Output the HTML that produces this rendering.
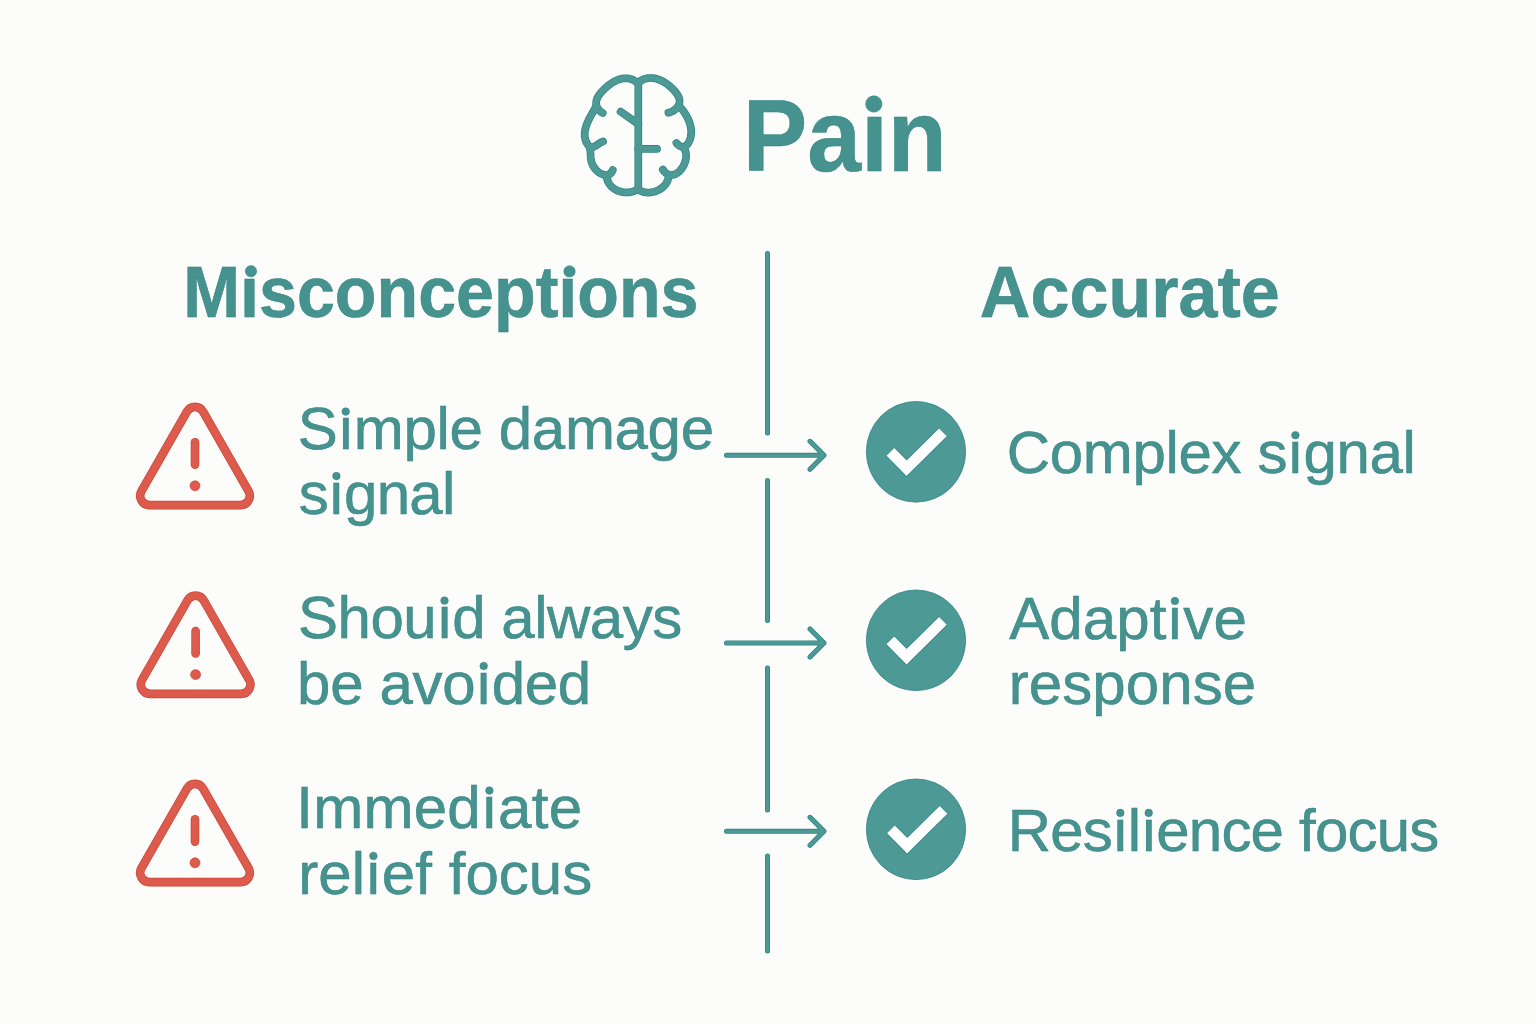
<!DOCTYPE html>
<html><head><meta charset="utf-8"><style>
html,body{margin:0;padding:0;background:#FCFCFB;}
body{width:1536px;height:1024px;overflow:hidden;position:relative;}
svg{position:absolute;left:0;top:0;}
text{font-family:"Liberation Sans",sans-serif;fill:#46928F;stroke:#2A817E;stroke-width:0.5px;}
.b{font-weight:bold;}
</style></head><body>
<svg width="1536" height="1024" viewBox="0 0 1536 1024">
<g fill="none" stroke="#2A817E" stroke-width="7.7" stroke-linecap="round" stroke-linejoin="round"><path d="M638.44 83.94 L637.74 83.24 L637.02 82.59 L636.30 81.98 L635.56 81.43 L634.82 80.92 L634.07 80.46 L633.32 80.05 L632.56 79.68 L631.79 79.36 L631.01 79.08 L630.24 78.84 L629.45 78.65 L628.67 78.49 L627.87 78.38 L627.08 78.30 L626.28 78.26 L625.48 78.26 L624.68 78.29 L623.88 78.36 L623.08 78.46 L622.28 78.59 L621.48 78.76 L620.68 78.96 L619.88 79.18 L619.08 79.44 L618.28 79.72 L617.49 80.03 L616.70 80.37 L615.92 80.73 L615.13 81.11 L614.36 81.52 L613.59 81.95 L612.82 82.40 L612.06 82.87 L611.31 83.36 L610.56 83.87 L609.83 84.40 L609.10 84.94 L608.38 85.49 L607.67 86.07 L606.96 86.65 L606.27 87.25 L605.59 87.86 L604.92 88.48 L604.26 89.10 L603.62 89.74 L602.99 90.39 L602.37 91.04 L601.76 91.69 L601.17 92.36 L600.60 93.02 L600.05 93.70 L599.52 94.38 L599.03 95.06 L598.56 95.76 L598.13 96.46 L597.73 97.16 L597.37 97.88 L597.05 98.60 L596.77 99.33 L596.55 100.06 L596.37 100.81 L596.25 101.56 L596.18 102.32 L596.17 103.09 L596.22 103.87 L596.33 104.65 L596.51 105.44 L596.75 106.23 L597.06 107.01 L597.43 107.78 L597.86 108.54 L598.36 109.27 L598.92 109.99 L599.55 110.67 L600.24 111.33 L601.00 111.94 L601.82 112.52 L602.71 113.05"/>
<path d="M596.12 106.21 L595.81 106.82 L595.50 107.43 L595.17 108.04 L594.83 108.67 L594.49 109.29 L594.14 109.93 L593.78 110.57 L593.42 111.21 L593.05 111.86 L592.68 112.51 L592.31 113.17 L591.93 113.83 L591.56 114.50 L591.19 115.17 L590.81 115.85 L590.44 116.53 L590.08 117.21 L589.71 117.90 L589.35 118.59 L589.00 119.29 L588.66 119.99 L588.32 120.69 L587.99 121.39 L587.67 122.10 L587.37 122.81 L587.07 123.53 L586.79 124.24 L586.52 124.96 L586.26 125.68 L586.02 126.41 L585.80 127.13 L585.59 127.86 L585.40 128.59 L585.23 129.32 L585.08 130.05 L584.95 130.79 L584.84 131.52 L584.76 132.26 L584.70 132.99 L584.66 133.73 L584.65 134.47 L584.67 135.21 L584.71 135.95 L584.78 136.69 L584.88 137.43 L585.02 138.17 L585.18 138.91 L585.37 139.65 L585.60 140.39 L585.86 141.13 L586.15 141.85 L586.48 142.56 L586.84 143.23 L587.22 143.88 L587.64 144.48 L588.08 145.04 L588.56 145.55 L589.06 145.99 L589.60 146.36 L590.15 146.66 L590.74 146.88 L591.35 147.01 L591.99 147.04 L592.65 146.98 L593.33 146.81 L594.03 146.57 L594.75 146.25 L595.48 145.88 L596.21 145.46 L596.95 145.00 L597.68 144.53 L598.42 144.04 L599.14 143.56 L599.85 143.10 L600.55 142.66 L601.23 142.27 L601.89 141.92 L602.52 141.65 L603.11 141.45"/>
<path d="M589.87 148.48 L590.00 148.98 L590.11 149.49 L590.20 150.00 L590.28 150.51 L590.35 151.03 L590.40 151.56 L590.45 152.09 L590.48 152.62 L590.51 153.16 L590.54 153.70 L590.56 154.24 L590.58 154.78 L590.60 155.32 L590.62 155.87 L590.64 156.41 L590.68 156.96 L590.71 157.50 L590.76 158.05 L590.82 158.59 L590.89 159.14 L590.97 159.68 L591.07 160.22 L591.18 160.75 L591.31 161.28 L591.45 161.81 L591.61 162.34 L591.78 162.86 L591.97 163.38 L592.18 163.89 L592.39 164.39 L592.62 164.89 L592.87 165.39 L593.13 165.87 L593.40 166.35 L593.69 166.82 L593.99 167.29 L594.30 167.74 L594.63 168.19 L594.97 168.63 L595.32 169.06 L595.68 169.48 L596.06 169.89 L596.44 170.28 L596.84 170.67 L597.26 171.04 L597.68 171.41 L598.12 171.76 L598.56 172.10 L599.02 172.42 L599.49 172.73 L599.97 173.03 L600.46 173.31 L600.95 173.57 L601.46 173.82 L601.97 174.05 L602.48 174.26 L603.00 174.44 L603.52 174.60 L604.05 174.74 L604.57 174.85 L605.09 174.94 L605.61 174.99 L606.12 175.01 L606.63 175.00 L607.13 174.96 L607.62 174.89 L608.11 174.77 L608.58 174.63 L609.05 174.44 L609.50 174.21 L609.93 173.94 L610.35 173.62 L610.76 173.27 L611.14 172.86 L611.51 172.41 L611.86 171.91 L612.18 171.36 L612.48 170.76 L612.76 170.11"/>
<path d="M606.52 176.42 L606.59 176.97 L606.68 177.51 L606.78 178.04 L606.91 178.56 L607.04 179.08 L607.19 179.58 L607.36 180.08 L607.54 180.57 L607.73 181.05 L607.94 181.52 L608.16 181.98 L608.40 182.44 L608.65 182.88 L608.91 183.32 L609.18 183.74 L609.46 184.16 L609.76 184.57 L610.07 184.97 L610.39 185.36 L610.72 185.73 L611.06 186.10 L611.41 186.46 L611.77 186.81 L612.14 187.15 L612.52 187.48 L612.91 187.81 L613.30 188.12 L613.71 188.42 L614.12 188.71 L614.54 188.99 L614.97 189.26 L615.41 189.52 L615.85 189.77 L616.30 190.00 L616.75 190.23 L617.21 190.45 L617.68 190.66 L618.15 190.85 L618.63 191.04 L619.11 191.21 L619.59 191.38 L620.08 191.53 L620.57 191.67 L621.07 191.80 L621.57 191.92 L622.07 192.03 L622.58 192.12 L623.09 192.21 L623.59 192.28 L624.11 192.35 L624.62 192.40 L625.13 192.43 L625.64 192.46 L626.16 192.48 L626.67 192.48 L627.18 192.47 L627.70 192.45 L628.21 192.42 L628.72 192.38 L629.23 192.32 L629.74 192.25 L630.24 192.17 L630.75 192.07 L631.25 191.97 L631.74 191.85 L632.24 191.72 L632.73 191.57 L633.21 191.42 L633.70 191.25 L634.17 191.07 L634.65 190.87 L635.11 190.66 L635.58 190.44 L636.03 190.21 L636.48 189.96 L636.93 189.70 L637.36 189.42 L637.79 189.14 L638.22 188.83"/>
<path d="M638.30 83.00 L638.30 190.00"/>
<path d="M620.60 111.60 L638.30 124.00"/>
<path d="M638.17 82.54 L638.96 81.93 L639.75 81.36 L640.56 80.85 L641.37 80.38 L642.18 79.95 L643.00 79.57 L643.83 79.23 L644.66 78.94 L645.49 78.68 L646.33 78.47 L647.16 78.30 L648.01 78.16 L648.85 78.07 L649.69 78.01 L650.54 77.99 L651.39 78.00 L652.23 78.05 L653.08 78.14 L653.92 78.25 L654.76 78.40 L655.60 78.58 L656.44 78.80 L657.28 79.04 L658.11 79.31 L658.93 79.61 L659.76 79.93 L660.57 80.28 L661.39 80.66 L662.19 81.06 L662.99 81.49 L663.78 81.94 L664.57 82.41 L665.34 82.90 L666.11 83.42 L666.87 83.95 L667.62 84.50 L668.36 85.07 L669.09 85.66 L669.81 86.26 L670.51 86.88 L671.21 87.51 L671.89 88.15 L672.56 88.81 L673.22 89.48 L673.86 90.17 L674.49 90.86 L675.10 91.56 L675.68 92.27 L676.24 92.99 L676.77 93.72 L677.27 94.46 L677.73 95.20 L678.15 95.95 L678.52 96.71 L678.84 97.48 L679.10 98.25 L679.31 99.03 L679.45 99.82 L679.53 100.60 L679.54 101.40 L679.47 102.20 L679.33 103.00 L679.12 103.79 L678.83 104.58 L678.48 105.36 L678.05 106.12 L677.57 106.86 L677.01 107.57 L676.40 108.25 L675.74 108.90 L675.03 109.52 L674.29 110.09 L673.50 110.63 L672.69 111.11 L671.85 111.55 L670.99 111.93 L670.13 112.26 L669.25 112.53 L668.38 112.73"/>
<path d="M679.68 106.73 L680.12 107.19 L680.55 107.67 L680.99 108.15 L681.42 108.65 L681.84 109.16 L682.26 109.68 L682.68 110.20 L683.09 110.74 L683.50 111.29 L683.90 111.84 L684.30 112.41 L684.69 112.98 L685.07 113.56 L685.45 114.15 L685.81 114.75 L686.17 115.35 L686.52 115.96 L686.86 116.58 L687.19 117.20 L687.51 117.83 L687.83 118.46 L688.13 119.11 L688.41 119.75 L688.69 120.40 L688.96 121.06 L689.21 121.72 L689.45 122.38 L689.67 123.05 L689.89 123.72 L690.08 124.40 L690.27 125.07 L690.44 125.75 L690.59 126.44 L690.72 127.12 L690.84 127.81 L690.95 128.49 L691.03 129.18 L691.10 129.87 L691.15 130.56 L691.18 131.25 L691.20 131.94 L691.19 132.63 L691.16 133.32 L691.11 134.01 L691.05 134.70 L690.96 135.39 L690.85 136.07 L690.72 136.76 L690.56 137.44 L690.38 138.11 L690.18 138.79 L689.96 139.46 L689.71 140.13 L689.43 140.79 L689.14 141.44 L688.82 142.07 L688.48 142.68 L688.11 143.27 L687.73 143.83 L687.32 144.35 L686.89 144.84 L686.44 145.29 L685.97 145.69 L685.48 146.04 L684.97 146.33 L684.44 146.57 L683.89 146.74 L683.32 146.85 L682.74 146.89 L682.14 146.85 L681.53 146.74 L680.91 146.56 L680.28 146.29 L679.64 145.95 L679.00 145.53 L678.36 145.02 L677.72 144.43 L677.08 143.75 L676.45 142.98"/>
<path d="M684.18 148.66 L684.47 149.12 L684.73 149.60 L684.96 150.08 L685.17 150.58 L685.36 151.09 L685.53 151.60 L685.67 152.13 L685.80 152.66 L685.90 153.20 L685.98 153.75 L686.04 154.30 L686.08 154.86 L686.10 155.42 L686.10 155.99 L686.08 156.56 L686.05 157.14 L685.99 157.71 L685.92 158.29 L685.83 158.87 L685.72 159.45 L685.60 160.03 L685.46 160.60 L685.30 161.18 L685.13 161.75 L684.94 162.32 L684.74 162.89 L684.52 163.45 L684.29 164.00 L684.04 164.55 L683.78 165.10 L683.51 165.63 L683.23 166.16 L682.93 166.68 L682.62 167.19 L682.30 167.69 L681.97 168.18 L681.63 168.66 L681.27 169.13 L680.91 169.58 L680.54 170.02 L680.16 170.45 L679.77 170.86 L679.37 171.26 L678.96 171.64 L678.55 172.00 L678.12 172.35 L677.70 172.68 L677.26 172.99 L676.82 173.28 L676.37 173.55 L675.92 173.80 L675.46 174.03 L675.00 174.24 L674.53 174.42 L674.06 174.58 L673.58 174.72 L673.11 174.83 L672.63 174.92 L672.15 174.98 L671.67 175.01 L671.18 175.01 L670.70 174.99 L670.21 174.94 L669.73 174.86 L669.25 174.74 L668.77 174.60 L668.29 174.43 L667.81 174.22 L667.33 173.98 L666.86 173.70 L666.39 173.39 L665.92 173.05 L665.46 172.67 L665.00 172.25 L664.55 171.80 L664.10 171.30 L663.66 170.77 L663.22 170.20 L662.79 169.59"/>
<path d="M668.59 176.52 L668.54 177.02 L668.46 177.51 L668.37 178.00 L668.27 178.48 L668.14 178.95 L668.01 179.42 L667.86 179.88 L667.69 180.34 L667.51 180.79 L667.31 181.23 L667.11 181.66 L666.88 182.09 L666.65 182.52 L666.40 182.93 L666.14 183.34 L665.87 183.74 L665.59 184.14 L665.29 184.52 L664.99 184.90 L664.67 185.28 L664.34 185.64 L664.01 186.00 L663.66 186.34 L663.30 186.68 L662.94 187.02 L662.56 187.34 L662.18 187.66 L661.79 187.96 L661.39 188.26 L660.98 188.55 L660.56 188.83 L660.14 189.10 L659.71 189.36 L659.28 189.61 L658.84 189.86 L658.39 190.09 L657.94 190.31 L657.48 190.53 L657.02 190.73 L656.56 190.93 L656.09 191.11 L655.61 191.28 L655.13 191.45 L654.65 191.60 L654.17 191.74 L653.68 191.87 L653.19 192.00 L652.70 192.11 L652.21 192.20 L651.72 192.29 L651.22 192.37 L650.73 192.43 L650.23 192.49 L649.74 192.53 L649.24 192.56 L648.75 192.57 L648.26 192.58 L647.76 192.57 L647.27 192.55 L646.78 192.52 L646.30 192.48 L645.81 192.42 L645.33 192.35 L644.85 192.27 L644.38 192.18 L643.91 192.07 L643.44 191.95 L642.98 191.81 L642.52 191.66 L642.07 191.50 L641.62 191.33 L641.18 191.14 L640.74 190.93 L640.31 190.72 L639.89 190.48 L639.47 190.24 L639.06 189.98 L638.66 189.70 L638.27 189.41"/>
<path d="M638.30 148.90 L657.00 148.90"/>
</g><g fill="none" stroke="#4D9996" stroke-width="6.30" stroke-linecap="round" stroke-linejoin="round"><path d="M638.44 83.94 L637.74 83.24 L637.02 82.59 L636.30 81.98 L635.56 81.43 L634.82 80.92 L634.07 80.46 L633.32 80.05 L632.56 79.68 L631.79 79.36 L631.01 79.08 L630.24 78.84 L629.45 78.65 L628.67 78.49 L627.87 78.38 L627.08 78.30 L626.28 78.26 L625.48 78.26 L624.68 78.29 L623.88 78.36 L623.08 78.46 L622.28 78.59 L621.48 78.76 L620.68 78.96 L619.88 79.18 L619.08 79.44 L618.28 79.72 L617.49 80.03 L616.70 80.37 L615.92 80.73 L615.13 81.11 L614.36 81.52 L613.59 81.95 L612.82 82.40 L612.06 82.87 L611.31 83.36 L610.56 83.87 L609.83 84.40 L609.10 84.94 L608.38 85.49 L607.67 86.07 L606.96 86.65 L606.27 87.25 L605.59 87.86 L604.92 88.48 L604.26 89.10 L603.62 89.74 L602.99 90.39 L602.37 91.04 L601.76 91.69 L601.17 92.36 L600.60 93.02 L600.05 93.70 L599.52 94.38 L599.03 95.06 L598.56 95.76 L598.13 96.46 L597.73 97.16 L597.37 97.88 L597.05 98.60 L596.77 99.33 L596.55 100.06 L596.37 100.81 L596.25 101.56 L596.18 102.32 L596.17 103.09 L596.22 103.87 L596.33 104.65 L596.51 105.44 L596.75 106.23 L597.06 107.01 L597.43 107.78 L597.86 108.54 L598.36 109.27 L598.92 109.99 L599.55 110.67 L600.24 111.33 L601.00 111.94 L601.82 112.52 L602.71 113.05"/>
<path d="M596.12 106.21 L595.81 106.82 L595.50 107.43 L595.17 108.04 L594.83 108.67 L594.49 109.29 L594.14 109.93 L593.78 110.57 L593.42 111.21 L593.05 111.86 L592.68 112.51 L592.31 113.17 L591.93 113.83 L591.56 114.50 L591.19 115.17 L590.81 115.85 L590.44 116.53 L590.08 117.21 L589.71 117.90 L589.35 118.59 L589.00 119.29 L588.66 119.99 L588.32 120.69 L587.99 121.39 L587.67 122.10 L587.37 122.81 L587.07 123.53 L586.79 124.24 L586.52 124.96 L586.26 125.68 L586.02 126.41 L585.80 127.13 L585.59 127.86 L585.40 128.59 L585.23 129.32 L585.08 130.05 L584.95 130.79 L584.84 131.52 L584.76 132.26 L584.70 132.99 L584.66 133.73 L584.65 134.47 L584.67 135.21 L584.71 135.95 L584.78 136.69 L584.88 137.43 L585.02 138.17 L585.18 138.91 L585.37 139.65 L585.60 140.39 L585.86 141.13 L586.15 141.85 L586.48 142.56 L586.84 143.23 L587.22 143.88 L587.64 144.48 L588.08 145.04 L588.56 145.55 L589.06 145.99 L589.60 146.36 L590.15 146.66 L590.74 146.88 L591.35 147.01 L591.99 147.04 L592.65 146.98 L593.33 146.81 L594.03 146.57 L594.75 146.25 L595.48 145.88 L596.21 145.46 L596.95 145.00 L597.68 144.53 L598.42 144.04 L599.14 143.56 L599.85 143.10 L600.55 142.66 L601.23 142.27 L601.89 141.92 L602.52 141.65 L603.11 141.45"/>
<path d="M589.87 148.48 L590.00 148.98 L590.11 149.49 L590.20 150.00 L590.28 150.51 L590.35 151.03 L590.40 151.56 L590.45 152.09 L590.48 152.62 L590.51 153.16 L590.54 153.70 L590.56 154.24 L590.58 154.78 L590.60 155.32 L590.62 155.87 L590.64 156.41 L590.68 156.96 L590.71 157.50 L590.76 158.05 L590.82 158.59 L590.89 159.14 L590.97 159.68 L591.07 160.22 L591.18 160.75 L591.31 161.28 L591.45 161.81 L591.61 162.34 L591.78 162.86 L591.97 163.38 L592.18 163.89 L592.39 164.39 L592.62 164.89 L592.87 165.39 L593.13 165.87 L593.40 166.35 L593.69 166.82 L593.99 167.29 L594.30 167.74 L594.63 168.19 L594.97 168.63 L595.32 169.06 L595.68 169.48 L596.06 169.89 L596.44 170.28 L596.84 170.67 L597.26 171.04 L597.68 171.41 L598.12 171.76 L598.56 172.10 L599.02 172.42 L599.49 172.73 L599.97 173.03 L600.46 173.31 L600.95 173.57 L601.46 173.82 L601.97 174.05 L602.48 174.26 L603.00 174.44 L603.52 174.60 L604.05 174.74 L604.57 174.85 L605.09 174.94 L605.61 174.99 L606.12 175.01 L606.63 175.00 L607.13 174.96 L607.62 174.89 L608.11 174.77 L608.58 174.63 L609.05 174.44 L609.50 174.21 L609.93 173.94 L610.35 173.62 L610.76 173.27 L611.14 172.86 L611.51 172.41 L611.86 171.91 L612.18 171.36 L612.48 170.76 L612.76 170.11"/>
<path d="M606.52 176.42 L606.59 176.97 L606.68 177.51 L606.78 178.04 L606.91 178.56 L607.04 179.08 L607.19 179.58 L607.36 180.08 L607.54 180.57 L607.73 181.05 L607.94 181.52 L608.16 181.98 L608.40 182.44 L608.65 182.88 L608.91 183.32 L609.18 183.74 L609.46 184.16 L609.76 184.57 L610.07 184.97 L610.39 185.36 L610.72 185.73 L611.06 186.10 L611.41 186.46 L611.77 186.81 L612.14 187.15 L612.52 187.48 L612.91 187.81 L613.30 188.12 L613.71 188.42 L614.12 188.71 L614.54 188.99 L614.97 189.26 L615.41 189.52 L615.85 189.77 L616.30 190.00 L616.75 190.23 L617.21 190.45 L617.68 190.66 L618.15 190.85 L618.63 191.04 L619.11 191.21 L619.59 191.38 L620.08 191.53 L620.57 191.67 L621.07 191.80 L621.57 191.92 L622.07 192.03 L622.58 192.12 L623.09 192.21 L623.59 192.28 L624.11 192.35 L624.62 192.40 L625.13 192.43 L625.64 192.46 L626.16 192.48 L626.67 192.48 L627.18 192.47 L627.70 192.45 L628.21 192.42 L628.72 192.38 L629.23 192.32 L629.74 192.25 L630.24 192.17 L630.75 192.07 L631.25 191.97 L631.74 191.85 L632.24 191.72 L632.73 191.57 L633.21 191.42 L633.70 191.25 L634.17 191.07 L634.65 190.87 L635.11 190.66 L635.58 190.44 L636.03 190.21 L636.48 189.96 L636.93 189.70 L637.36 189.42 L637.79 189.14 L638.22 188.83"/>
<path d="M638.30 83.00 L638.30 190.00"/>
<path d="M620.60 111.60 L638.30 124.00"/>
<path d="M638.17 82.54 L638.96 81.93 L639.75 81.36 L640.56 80.85 L641.37 80.38 L642.18 79.95 L643.00 79.57 L643.83 79.23 L644.66 78.94 L645.49 78.68 L646.33 78.47 L647.16 78.30 L648.01 78.16 L648.85 78.07 L649.69 78.01 L650.54 77.99 L651.39 78.00 L652.23 78.05 L653.08 78.14 L653.92 78.25 L654.76 78.40 L655.60 78.58 L656.44 78.80 L657.28 79.04 L658.11 79.31 L658.93 79.61 L659.76 79.93 L660.57 80.28 L661.39 80.66 L662.19 81.06 L662.99 81.49 L663.78 81.94 L664.57 82.41 L665.34 82.90 L666.11 83.42 L666.87 83.95 L667.62 84.50 L668.36 85.07 L669.09 85.66 L669.81 86.26 L670.51 86.88 L671.21 87.51 L671.89 88.15 L672.56 88.81 L673.22 89.48 L673.86 90.17 L674.49 90.86 L675.10 91.56 L675.68 92.27 L676.24 92.99 L676.77 93.72 L677.27 94.46 L677.73 95.20 L678.15 95.95 L678.52 96.71 L678.84 97.48 L679.10 98.25 L679.31 99.03 L679.45 99.82 L679.53 100.60 L679.54 101.40 L679.47 102.20 L679.33 103.00 L679.12 103.79 L678.83 104.58 L678.48 105.36 L678.05 106.12 L677.57 106.86 L677.01 107.57 L676.40 108.25 L675.74 108.90 L675.03 109.52 L674.29 110.09 L673.50 110.63 L672.69 111.11 L671.85 111.55 L670.99 111.93 L670.13 112.26 L669.25 112.53 L668.38 112.73"/>
<path d="M679.68 106.73 L680.12 107.19 L680.55 107.67 L680.99 108.15 L681.42 108.65 L681.84 109.16 L682.26 109.68 L682.68 110.20 L683.09 110.74 L683.50 111.29 L683.90 111.84 L684.30 112.41 L684.69 112.98 L685.07 113.56 L685.45 114.15 L685.81 114.75 L686.17 115.35 L686.52 115.96 L686.86 116.58 L687.19 117.20 L687.51 117.83 L687.83 118.46 L688.13 119.11 L688.41 119.75 L688.69 120.40 L688.96 121.06 L689.21 121.72 L689.45 122.38 L689.67 123.05 L689.89 123.72 L690.08 124.40 L690.27 125.07 L690.44 125.75 L690.59 126.44 L690.72 127.12 L690.84 127.81 L690.95 128.49 L691.03 129.18 L691.10 129.87 L691.15 130.56 L691.18 131.25 L691.20 131.94 L691.19 132.63 L691.16 133.32 L691.11 134.01 L691.05 134.70 L690.96 135.39 L690.85 136.07 L690.72 136.76 L690.56 137.44 L690.38 138.11 L690.18 138.79 L689.96 139.46 L689.71 140.13 L689.43 140.79 L689.14 141.44 L688.82 142.07 L688.48 142.68 L688.11 143.27 L687.73 143.83 L687.32 144.35 L686.89 144.84 L686.44 145.29 L685.97 145.69 L685.48 146.04 L684.97 146.33 L684.44 146.57 L683.89 146.74 L683.32 146.85 L682.74 146.89 L682.14 146.85 L681.53 146.74 L680.91 146.56 L680.28 146.29 L679.64 145.95 L679.00 145.53 L678.36 145.02 L677.72 144.43 L677.08 143.75 L676.45 142.98"/>
<path d="M684.18 148.66 L684.47 149.12 L684.73 149.60 L684.96 150.08 L685.17 150.58 L685.36 151.09 L685.53 151.60 L685.67 152.13 L685.80 152.66 L685.90 153.20 L685.98 153.75 L686.04 154.30 L686.08 154.86 L686.10 155.42 L686.10 155.99 L686.08 156.56 L686.05 157.14 L685.99 157.71 L685.92 158.29 L685.83 158.87 L685.72 159.45 L685.60 160.03 L685.46 160.60 L685.30 161.18 L685.13 161.75 L684.94 162.32 L684.74 162.89 L684.52 163.45 L684.29 164.00 L684.04 164.55 L683.78 165.10 L683.51 165.63 L683.23 166.16 L682.93 166.68 L682.62 167.19 L682.30 167.69 L681.97 168.18 L681.63 168.66 L681.27 169.13 L680.91 169.58 L680.54 170.02 L680.16 170.45 L679.77 170.86 L679.37 171.26 L678.96 171.64 L678.55 172.00 L678.12 172.35 L677.70 172.68 L677.26 172.99 L676.82 173.28 L676.37 173.55 L675.92 173.80 L675.46 174.03 L675.00 174.24 L674.53 174.42 L674.06 174.58 L673.58 174.72 L673.11 174.83 L672.63 174.92 L672.15 174.98 L671.67 175.01 L671.18 175.01 L670.70 174.99 L670.21 174.94 L669.73 174.86 L669.25 174.74 L668.77 174.60 L668.29 174.43 L667.81 174.22 L667.33 173.98 L666.86 173.70 L666.39 173.39 L665.92 173.05 L665.46 172.67 L665.00 172.25 L664.55 171.80 L664.10 171.30 L663.66 170.77 L663.22 170.20 L662.79 169.59"/>
<path d="M668.59 176.52 L668.54 177.02 L668.46 177.51 L668.37 178.00 L668.27 178.48 L668.14 178.95 L668.01 179.42 L667.86 179.88 L667.69 180.34 L667.51 180.79 L667.31 181.23 L667.11 181.66 L666.88 182.09 L666.65 182.52 L666.40 182.93 L666.14 183.34 L665.87 183.74 L665.59 184.14 L665.29 184.52 L664.99 184.90 L664.67 185.28 L664.34 185.64 L664.01 186.00 L663.66 186.34 L663.30 186.68 L662.94 187.02 L662.56 187.34 L662.18 187.66 L661.79 187.96 L661.39 188.26 L660.98 188.55 L660.56 188.83 L660.14 189.10 L659.71 189.36 L659.28 189.61 L658.84 189.86 L658.39 190.09 L657.94 190.31 L657.48 190.53 L657.02 190.73 L656.56 190.93 L656.09 191.11 L655.61 191.28 L655.13 191.45 L654.65 191.60 L654.17 191.74 L653.68 191.87 L653.19 192.00 L652.70 192.11 L652.21 192.20 L651.72 192.29 L651.22 192.37 L650.73 192.43 L650.23 192.49 L649.74 192.53 L649.24 192.56 L648.75 192.57 L648.26 192.58 L647.76 192.57 L647.27 192.55 L646.78 192.52 L646.30 192.48 L645.81 192.42 L645.33 192.35 L644.85 192.27 L644.38 192.18 L643.91 192.07 L643.44 191.95 L642.98 191.81 L642.52 191.66 L642.07 191.50 L641.62 191.33 L641.18 191.14 L640.74 190.93 L640.31 190.72 L639.89 190.48 L639.47 190.24 L639.06 189.98 L638.66 189.70 L638.27 189.41"/>
<path d="M638.30 148.90 L657.00 148.90"/>
</g>
<g fill="none" stroke="#2A817E" stroke-width="5" stroke-linecap="round" stroke-linejoin="round"><line x1="767.5" y1="253.5" x2="767.5" y2="433"/>
<line x1="767.5" y1="480.5" x2="767.5" y2="620.5"/>
<line x1="767.5" y1="668" x2="767.5" y2="810"/>
<line x1="767.5" y1="856" x2="767.5" y2="951"/></g><g fill="none" stroke="#4D9996" stroke-width="3.60" stroke-linecap="round" stroke-linejoin="round"><line x1="767.5" y1="253.5" x2="767.5" y2="433"/>
<line x1="767.5" y1="480.5" x2="767.5" y2="620.5"/>
<line x1="767.5" y1="668" x2="767.5" y2="810"/>
<line x1="767.5" y1="856" x2="767.5" y2="951"/></g>
<g fill="none" stroke="#2A817E" stroke-width="5" stroke-linecap="round" stroke-linejoin="round"><path d="M726.5 455.3 H823.5 M810 441.3 L824 455.3 L810 469.3"/><path d="M726.5 642.9 H823.5 M810 628.9 L824 642.9 L810 656.9"/><path d="M726.5 831.3 H823.5 M810 817.3 L824 831.3 L810 845.3"/></g><g fill="none" stroke="#4D9996" stroke-width="3.60" stroke-linecap="round" stroke-linejoin="round"><path d="M726.5 455.3 H823.5 M810 441.3 L824 455.3 L810 469.3"/><path d="M726.5 642.9 H823.5 M810 628.9 L824 642.9 L810 656.9"/><path d="M726.5 831.3 H823.5 M810 817.3 L824 831.3 L810 845.3"/></g>
<g fill="none" stroke="#CC4535" stroke-width="8.6" stroke-linecap="round" stroke-linejoin="round"><path d="M203.08 411.54 L248.56 491.19 A9.30 9.30 0 0 1 240.48 505.10 L149.52 505.10 A9.30 9.30 0 0 1 141.44 491.19 L186.92 411.54 A9.30 9.30 0 0 1 203.08 411.54Z"/><line x1="195.0" y1="442.2" x2="195.0" y2="464.6"/><path d="M203.68 600.34 L249.16 679.99 A9.30 9.30 0 0 1 241.08 693.90 L150.12 693.90 A9.30 9.30 0 0 1 142.04 679.99 L187.52 600.34 A9.30 9.30 0 0 1 203.68 600.34Z"/><line x1="195.6" y1="631.0" x2="195.6" y2="653.4"/><path d="M203.08 788.54 L248.56 868.19 A9.30 9.30 0 0 1 240.48 882.10 L149.52 882.10 A9.30 9.30 0 0 1 141.44 868.19 L186.92 788.54 A9.30 9.30 0 0 1 203.08 788.54Z"/><line x1="195.0" y1="819.2" x2="195.0" y2="841.6"/></g><g fill="none" stroke="#DC5B4C" stroke-width="7.20" stroke-linecap="round" stroke-linejoin="round"><path d="M203.08 411.54 L248.56 491.19 A9.30 9.30 0 0 1 240.48 505.10 L149.52 505.10 A9.30 9.30 0 0 1 141.44 491.19 L186.92 411.54 A9.30 9.30 0 0 1 203.08 411.54Z"/><line x1="195.0" y1="442.2" x2="195.0" y2="464.6"/><path d="M203.68 600.34 L249.16 679.99 A9.30 9.30 0 0 1 241.08 693.90 L150.12 693.90 A9.30 9.30 0 0 1 142.04 679.99 L187.52 600.34 A9.30 9.30 0 0 1 203.68 600.34Z"/><line x1="195.6" y1="631.0" x2="195.6" y2="653.4"/><path d="M203.08 788.54 L248.56 868.19 A9.30 9.30 0 0 1 240.48 882.10 L149.52 882.10 A9.30 9.30 0 0 1 141.44 868.19 L186.92 788.54 A9.30 9.30 0 0 1 203.08 788.54Z"/><line x1="195.0" y1="819.2" x2="195.0" y2="841.6"/></g>
<circle cx="195.0" cy="485.8" r="4.95" fill="#DC5B4C" stroke="#CC4535" stroke-width="0.70"/><circle cx="195.6" cy="674.6" r="4.95" fill="#DC5B4C" stroke="#CC4535" stroke-width="0.70"/><circle cx="195.0" cy="862.8" r="4.95" fill="#DC5B4C" stroke="#CC4535" stroke-width="0.70"/>
<g fill="#4D9996" stroke="#2A817E" stroke-width="0.7"><ellipse cx="916" cy="451.8" rx="49.65" ry="50.35"/><ellipse cx="916" cy="640.3" rx="49.65" ry="50.35"/><ellipse cx="916" cy="829.3" rx="49.65" ry="50.35"/></g>
<g fill="none" stroke="#2A817E" stroke-width="12.4" stroke-linecap="butt" stroke-linejoin="miter"><polyline points="890.4,451.8 906.6,468.2 942.9,432.4"/><polyline points="890.4,640.3 906.6,656.7 942.9,620.9"/><polyline points="891.0,829.3 907.2,845.7 943.5,809.9"/></g><g fill="none" stroke="#FFFFFF" stroke-width="11.00" stroke-linecap="butt" stroke-linejoin="miter"><polyline points="890.4,451.8 906.6,468.2 942.9,432.4"/><polyline points="890.4,640.3 906.6,656.7 942.9,620.9"/><polyline points="891.0,829.3 907.2,845.7 943.5,809.9"/></g>
<text class="b" x="742.70" y="170.60" font-size="102.0" textLength="204.2" lengthAdjust="spacingAndGlyphs">Paın</text>
<text class="b" x="183.30" y="317.40" font-size="72.2" textLength="515.2" lengthAdjust="spacingAndGlyphs">Mısconceptıons</text>
<text class="b" x="979.80" y="317.40" font-size="72.2" textLength="300.0" lengthAdjust="spacingAndGlyphs">Accurate</text>
<text x="297.70" y="449.40" font-size="60.0" textLength="416.3" lengthAdjust="spacing">Sımple damage</text>
<text x="298.70" y="513.90" font-size="60.0" textLength="156.7" lengthAdjust="spacing">sıgnal</text>
<text x="298.10" y="638.40" font-size="60.0" textLength="384.1" lengthAdjust="spacing">Shouıd always</text>
<text x="297.10" y="703.80" font-size="60.0" textLength="294.1" lengthAdjust="spacing">be avoıded</text>
<text x="296.20" y="828.40" font-size="60.0" textLength="285.8" lengthAdjust="spacing">Immedıate</text>
<text x="298.20" y="893.80" font-size="60.0" textLength="294.1" lengthAdjust="spacing">relıef focus</text>
<text x="1006.80" y="473.00" font-size="60.0" textLength="409.0" lengthAdjust="spacing">Complex sıgnal</text>
<text x="1009.25" y="638.80" font-size="60.0" textLength="237.5" lengthAdjust="spacing">Adaptıve</text>
<text x="1008.80" y="703.80" font-size="60.0" textLength="247.3" lengthAdjust="spacing">response</text>
<text x="1007.70" y="850.70" font-size="60.0" textLength="431.5" lengthAdjust="spacing">Resılıence focus</text>
<circle cx="873.8" cy="104.0" r="8.20" fill="#46928F" stroke="#2A817E" stroke-width="0.5"/><circle cx="251.0" cy="271.2" r="5.70" fill="#46928F" stroke="#2A817E" stroke-width="0.5"/><circle cx="569.5" cy="271.4" r="5.70" fill="#46928F" stroke="#2A817E" stroke-width="0.5"/><circle cx="345.7" cy="411.6" r="3.80" fill="#46928F" stroke="#2A817E" stroke-width="0.5"/><circle cx="336.4" cy="476.1" r="3.80" fill="#46928F" stroke="#2A817E" stroke-width="0.5"/><circle cx="444.5" cy="600.6" r="3.80" fill="#46928F" stroke="#2A817E" stroke-width="0.5"/><circle cx="483.7" cy="666.0" r="3.80" fill="#46928F" stroke="#2A817E" stroke-width="0.5"/><circle cx="489.4" cy="790.6" r="3.80" fill="#46928F" stroke="#2A817E" stroke-width="0.5"/><circle cx="373.4" cy="856.0" r="3.80" fill="#46928F" stroke="#2A817E" stroke-width="0.5"/><circle cx="1295.4" cy="435.2" r="3.80" fill="#46928F" stroke="#2A817E" stroke-width="0.5"/><circle cx="1174.9" cy="601.0" r="3.80" fill="#46928F" stroke="#2A817E" stroke-width="0.5"/><circle cx="1120.3" cy="812.9" r="3.80" fill="#46928F" stroke="#2A817E" stroke-width="0.5"/><circle cx="1148.7" cy="812.9" r="3.80" fill="#46928F" stroke="#2A817E" stroke-width="0.5"/></svg>
</body></html>
